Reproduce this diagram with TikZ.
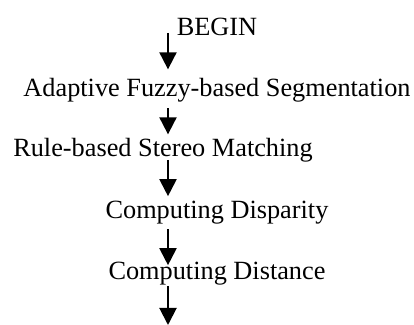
\documentclass[tikz,border=0pt]{standalone}
\usepackage{fontspec}
\setmainfont{Liberation Serif}
\usetikzlibrary{arrows.meta}

\begin{document}
\begin{tikzpicture}[x = 0.5pt, y = -0.5pt,
    every node/.style = {inner sep = 0pt, anchor = base, font = \fontsize{13.15}{16}\selectfont},
    flow/.style = {line width = 1pt, -{Triangle[length = 8.5pt, width = 8.5pt]}}]
        \useasboundingbox (0,0) rectangle (414,325);
        \coordinate (axis) at (168,0);
        \node (begin) at (217,36) {BEGIN};
        \node (seg) at (217,97) {Adaptive Fuzzy-based Segmentation};
        \node (match) at (163,157) {Rule-based Stereo Matching};
        \node (disp) at (217,219) {Computing Disparity};
        \node (dist) at (217,280) {Computing Distance};
        \coordinate (end) at (168,325);
        \draw[flow, shorten < = -1.5pt, shorten > = 4.5pt] (begin.base -| axis) -- (seg.north -| axis);
        \draw[flow, shorten < = 2.5pt, shorten > = 2pt] (seg.south -| axis) -- (match.north -| axis);
        \draw[flow, shorten < = 1.5pt, shorten > = 2.5pt] (match.base -| axis) -- (disp.north -| axis);
        \draw[flow, shorten < = 2pt, shorten > = -1.5pt] (disp.south -| axis) -- (dist.north -| axis);
        \draw[flow] (dist.south -| axis) -- (end);
\end{tikzpicture}
\end{document}
